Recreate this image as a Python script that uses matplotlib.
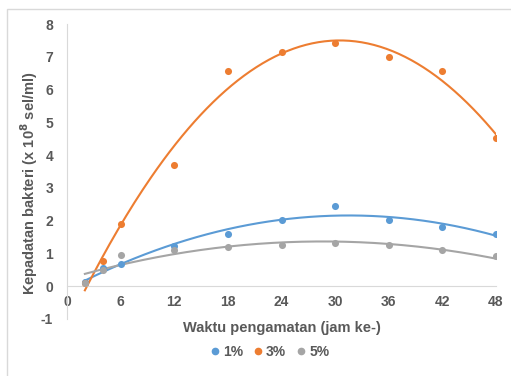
import numpy as np
import matplotlib.pyplot as plt
from matplotlib.lines import Line2D
from matplotlib.patches import Rectangle

# Data
waktu = [2, 4, 6, 12, 18, 24, 30, 36, 42, 48]
konsentrasi_1 = [0.12, 0.56, 0.67, 1.24, 1.58, 2.01, 2.46, 2.03, 1.80, 1.58]
konsentrasi_3 = [0.10, 0.78, 1.90, 3.71, 6.56, 7.14, 7.42, 6.98, 6.56, 4.52]
konsentrasi_5 = [0.10, 0.51, 0.94, 1.12, 1.19, 1.25, 1.32, 1.25, 1.09, 0.91]
labels = ["1%", "3%", "5%"]
warna = ["#5B9BD5", "#ED7D31", "#A5A5A5"]
xticks = [0, 6, 12, 18, 24, 30, 36, 42, 48]
yticks = [-1, 0, 1, 2, 3, 4, 5, 6, 7, 8]

teks = "#595959"
plt.rcParams["font.family"] = ["Liberation Sans", "DejaVu Sans"]
plt.rcParams["axes.unicode_minus"] = False

fig = plt.figure(figsize=(5.11, 3.76), dpi=100)
ax = fig.add_axes([67 / 511, 1 - 319 / 376, (496 - 67) / 511, (319 - 24) / 376])

# outer chart border
fig.patches.append(Rectangle((7 / 511, -0.05), 1.1, 1 - 9 / 376 + 0.05,
                             transform=fig.transFigure, fill=False,
                             edgecolor="#d9d9d9", linewidth=1))

xs = np.linspace(2, 48, 200)
for ys, lab, c in zip([konsentrasi_1, konsentrasi_3, konsentrasi_5], labels, warna):
    ax.scatter(waktu, ys, s=26, color=c, zorder=3, linewidths=0)
    # trendline polinomial orde 2
    koef = np.polyfit(waktu, ys, 2)
    ax.plot(xs, np.polyval(koef, xs), color=c, linewidth=1.5, zorder=2)

ax.set_xlim(0, 48)
ax.set_ylim(-1, 8)
ax.set_xticks(xticks)
ax.set_yticks(yticks)
ax.spines["top"].set_visible(False)
ax.spines["right"].set_visible(False)
ax.spines["bottom"].set_position(("data", 0))
for s in ["left", "bottom"]:
    ax.spines[s].set_color("#d9d9d9")
ax.tick_params(length=0, labelsize=10, labelcolor=teks, pad=6)
ax.tick_params(axis="y", pad=10)
for t in ax.get_xticklabels() + ax.get_yticklabels():
    t.set_fontweight("bold")

ax.set_xlabel("Waktu pengamatan (jam ke-)", fontsize=10.5, fontweight="bold", color=teks)
ax.set_ylabel(r"Kepadatan bakteri (x 10$^{\mathbf{8}}$ sel/ml)", fontsize=10.5,
              fontweight="bold", color=teks)
ax.xaxis.set_label_coords(0.5, -0.008)
ax.yaxis.set_label_coords(-0.062, 0.46)

handles = [Line2D([], [], marker="o", linestyle="", color=c, markersize=4.5) for c in warna]
leg = fig.legend(handles, labels, loc="center", bbox_to_anchor=(270 / 511, 1 - 352 / 376),
                 ncol=3, frameon=False, handlelength=0.6, handletextpad=0.3,
                 columnspacing=0.75, prop={"weight": "bold", "size": 10})
for t in leg.get_texts():
    t.set_color(teks)

fig.savefig("out.png", dpi=100)
